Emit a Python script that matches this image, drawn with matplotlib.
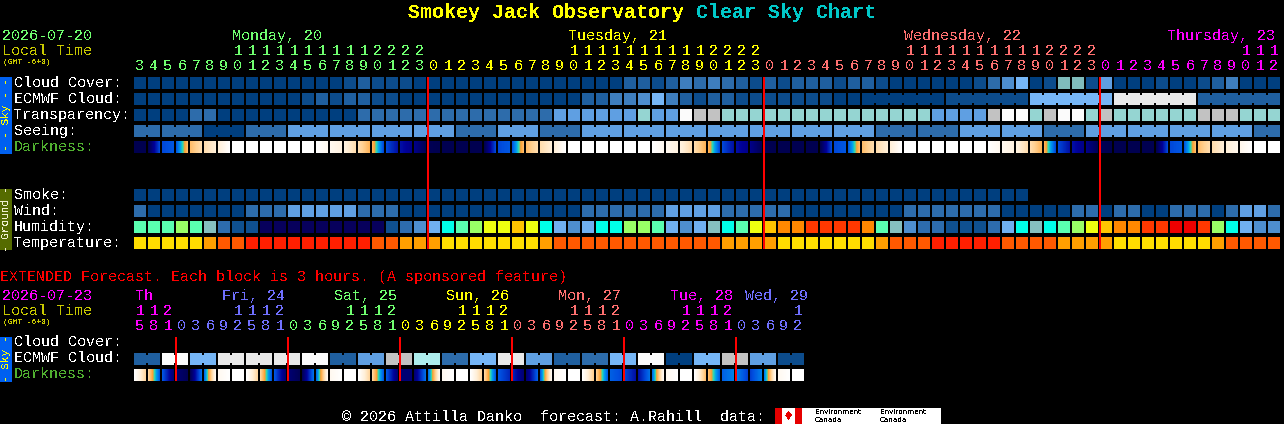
import numpy as np
import matplotlib
matplotlib.use("Agg")
import matplotlib.pyplot as plt
from matplotlib.colors import LinearSegmentedColormap
from matplotlib.patches import Rectangle

# Dados
cloud_pal = ["#003F7F", "#0C4C8C", "#1F5F9F", "#2D6CAB", "#3E7EBE", "#4E8ECE", "#5F9FE2", "#76B6F6",
             "#80BDBD", "#95D5D2", "#ADEDED", "#C2C2C2", "#E9E9E9", "#FBFBFB"]
hum_pal = ["#07005C", "#0F5090", "#2D6CAE", "#4E8ECE", "#70B0F0", "#85BFBF", "#00FFE8",
           "#5AFFB0", "#99FF66", "#EEFF10", "#FFC400", "#FF8800", "#FF3800", "#EE0000"]
temp_pal = ["#FFDD00", "#FF9F00", "#FF5900", "#FF1F00"]

cloud_cover = [0, 0, 0, 0, 0, 0, 0, 0, 0, 0, 0, 0, 0, 0, 0, 1, 2, 1, 1, 1, 0,
               0, 0, 0, 0, 0, 0, 0, 0, 0, 0, 0, 0, 0, 0, 2, 2, 1, 2, 4, 3, 4, 3, 2, 1, 2, 1, 2, 2, 2, 1, 2,
               2, 1, 0, 0, 0, 0, 0, 0, 1, 3, 5, 7, 0, 1, 8, 8, 1, 6, 0, 0, 0, 1, 0, 0, 1, 2, 4, 0, 0, 0]
ecmwf = [0, 0, 0, 0, 0, 0, 0, 0, 0, 0, 0, 0, 1, 2, 1, 2, 2, 1, 1, 0, 0,
         0, 0, 0, 0, 0, 0, 0, 0, 0, 0, 0, 2, 2, 4, 4, 5, 7, 4, 2, 1, 2, 2, 1, 1, 1, 1, 1, 1, 1, 0, 0,
         0, 0, 0, 0, 0, 0, 1, 1, 1, 1, 1, 1, 7, 7, 7, 7, 7, 7, 12, 12, 12, 12, 12, 12, 2, 2, 2, 2, 2, 2]
transparency = [0, 0, 0, 0, 3, 3, 0, 0, 0, 0, 0, 0, 0, 0, 0, 0, 3, 3, 3, 3, 3,
                3, 3, 3, 3, 3, 3, 3, 3, 3, 6, 6, 6, 6, 6, 6, 9, 6, 6, 13, 11, 11, 9, 9, 9, 9, 9, 9, 9, 9, 9, 9,
                9, 9, 9, 9, 9, 6, 6, 6, 6, 11, 13, 13, 9, 11, 13, 13, 9, 11, 9, 9, 9, 9, 9, 9, 11, 11, 11, 9, 9, 9]
seeing = [3, 3, 3, 3, 3, 0, 0, 0, 3, 3, 3, 6, 6, 6, 6, 6, 6, 6, 6, 6, 6,
          6, 6, 3, 3, 3, 6, 6, 6, 3, 3, 3, 6, 6, 6, 6, 6, 6, 6, 6, 6, 6, 6, 6, 6, 6, 6, 6, 6, 6, 6, 6,
          6, 3, 3, 3, 3, 3, 3, 6, 6, 6, 6, 6, 6, 3, 3, 3, 6, 6, 6, 6, 6, 6, 6, 6, 6, 6, 6, 6, 3, 3]
smoke = [0] * 64
wind = [3, 0, 0, 0, 0, 0, 0, 0, 3, 3, 3, 6, 6, 6, 6, 6, 3, 3, 3, 0, 0,
        0, 0, 0, 0, 0, 0, 0, 0, 0, 0, 0, 3, 3, 3, 3, 3, 3, 6, 6, 6, 6, 3, 3, 3, 3, 3, 0, 0, 0, 0, 0,
        0, 0, 0, 3, 3, 3, 3, 3, 3, 3, 0, 0, 0, 0, 0, 3, 3, 0, 3, 3, 0, 0, 3, 3, 3, 0, 3, 6, 6, 3]
humidity = [7, 7, 7, 8, 7, 5, 2, 1, 1, 0, 0, 0, 0, 0, 0, 0, 0, 0, 1, 2, 3,
            4, 6, 7, 8, 9, 9, 10, 9, 6, 4, 3, 4, 6, 6, 8, 8, 7, 4, 3, 4, 5, 6, 7, 9, 10, 11, 11, 12, 12, 12, 12,
            11, 7, 5, 3, 2, 2, 1, 1, 1, 2, 4, 6, 5, 6, 7, 8, 9, 10, 11, 11, 12, 12, 13, 13, 12, 8, 6, 4, 3, 3]
temperature = [0, 0, 0, 0, 0, 1, 2, 2, 3, 3, 3, 3, 3, 3, 3, 3, 3, 2, 2, 1, 1,
               1, 0, 0, 0, 0, 0, 0, 0, 1, 2, 2, 2, 2, 2, 2, 2, 2, 2, 2, 2, 2, 1, 1, 1, 1, 0, 0, 0, 0, 0, 0,
               0, 1, 2, 2, 2, 3, 3, 3, 3, 3, 2, 2, 2, 2, 1, 1, 1, 1, 0, 0, 0, 0, 0, 0, 0, 1, 2, 2, 2, 2]
# darkness at block edges
darkness = [0, 0, 1.9, 2.1, 4.6, 5.4, 6, 7, 7, 7, 7, 7, 7, 7, 6.6, 6.2, 5.4, 4.4, 1.9, 1.2, 0.8, 0.1,
            0, 0, 0, 0, 1.9, 2.1, 4.6, 5.4, 6, 7, 7, 7, 7, 7, 7, 7, 6.6, 6.2, 5.4, 4.4, 1.9, 1.2, 0.8, 0.1,
            0, 0, 0, 0, 1.9, 2.1, 4.6, 5.4, 6, 7, 7, 7, 7, 7, 7, 7, 6.6, 6.2, 5.4, 4.4, 1.9, 1.2, 0.8, 0.1,
            0, 0, 0, 0, 1.9, 2.1, 4.6, 5.4, 6, 6.5, 7, 7, 7]

ext_ecmwf = [2, 13, 7, 12, 12, 12, 13, 2, 6, 11, 10, 3, 7, 12, 6, 2, 3, 7, 13, 0, 7, 11, 6, 1]
ext_darkness = [7, 5.2, 2.1, 0.5, 0.1, 2.4, 6.6, 7, 7, 5.2, 2.1, 0.5, 0.1, 2.4, 6.6, 7, 7, 5.2, 2.1, 0.5, 0.5, 2.4, 6.6, 7,
                7, 5.2, 2.1, 1.5, 0.5, 2.2, 6.6, 7, 7, 5, 2.2, 1.9, 1.2, 2.4, 6.6, 7, 7, 4.6, 2.2, 2.6, 1.8, 2.6, 6.6, 7, 7]

hours = [3, 4, 5, 6, 7, 8, 9, 10, 11, 12, 13, 14, 15, 16, 17, 18, 19, 20, 21, 22, 23,
         0, 1, 2, 3, 4, 5, 6, 7, 8, 9, 10, 11, 12, 13, 14, 15, 16, 17, 18, 19, 20, 21, 22, 23,
         0, 1, 2, 3, 4, 5, 6, 7, 8, 9, 10, 11, 12, 13, 14, 15, 16, 17, 18, 19, 20, 21, 22, 23,
         0, 1, 2, 3, 4, 5, 6, 7, 8, 9, 10, 11, 12]
ext_hours = [15, 18, 21] + [0, 3, 6, 9, 12, 15, 18, 21] * 5 + [0, 3, 6, 9, 12]
day_starts = [0, 21, 45, 69]
day_colors = ["#70FF70", "#FFFF00", "#FF7070", "#FF00FF"]
day_names = ["Monday, 20", "Tuesday, 21", "Wednesday, 22", "Thursday, 23"]
day_name_x = [232, 568, 904, 1167]
ext_day_starts = [0, 3, 11, 19, 27, 35, 43]
ext_day_colors = ["#FF00FF", "#7070FF", "#70FF70", "#FFFF00", "#FF7070", "#FF00FF", "#7070FF"]
ext_day_names = ["Th", "Fri, 24", "Sat, 25", "Sun, 26", "Mon, 27", "Tue, 28", "Wed, 29"]
ext_day_x = [135, 222, 334, 446, 558, 670, 745]

seeing_blocks = [2] + [3] * 26 + [2]
ecmwf_blocks = [1] * 52 + [6] * 5
ext_blocks = [2] * 24

plt.rcParams["font.family"] = "Liberation Mono"
plt.rcParams["text.antialiased"] = False

dark_cmap = LinearSegmentedColormap.from_list("dark", [
    (0 / 7, "#000050"), (1 / 7, "#000098"), (2 / 7, "#0050E0"), (3 / 7, "#00A0F0"),
    (3.5 / 7, "#30D8B0"), (4 / 7, "#FFA030"), (5 / 7, "#FFD090"), (6 / 7, "#FFEFD8"), (7 / 7, "#FFFFFF")])

fig = plt.figure(figsize=(12.84, 4.24), dpi=100, facecolor="black")
ax = fig.add_axes([0, 0, 1, 1], facecolor="black")
ax.axis("off")

CELL = 14
X0 = 134
FS = 10.8


def col_x(i):
    return X0 + i * CELL


def row(values, y, palette, blocks=None):
    for i, v in enumerate(values):
        ax.add_patch(Rectangle((col_x(i), y), 12, 12, color=palette[v], lw=0, antialiased=False))
    if blocks is None:
        return
    start = 0
    for n in blocks:
        for i in range(start, start + n - 1):
            if i + 1 < len(values):
                ax.add_patch(Rectangle((col_x(i) + 12, y + 2), 2, 8, color=palette[values[i]], lw=0, antialiased=False))
        start += n


def ext_row(values, y, palette, blocks):
    row([v for v in values for _ in (0, 1)], y, palette, blocks)


def dark_row(edges, y):
    for i in range(len(edges) - 1):
        grad = np.linspace(edges[i], edges[i + 1], 12).reshape(1, -1)
        ax.imshow(grad, extent=(col_x(i), col_x(i) + 12, y + 12, y), cmap=dark_cmap, vmin=0, vmax=7,
                  aspect="auto", interpolation="nearest")


def midnight_line(i, y, h):
    ax.add_patch(Rectangle((col_x(i) - 1, y), 2, h, color="#FF0000", lw=0, antialiased=False, snap=False, zorder=5))


def label(x, y, s, color="white", **kw):
    # y is the line centre, baseline sits 5 px under it
    kw.setdefault("fontsize", FS)
    kw.setdefault("ha", "left")
    ax.text(x, y + 5, s, color=color, va="baseline", **kw)


def hour_labels(hrs, starts, colors, y_tens, y_ones):
    for i, h in enumerate(hrs):
        c = colors[np.searchsorted(starts, i, side="right") - 1]
        label(col_x(i) + 6, y_ones, str(h % 10), c, ha="center")
        if h >= 10:
            label(col_x(i) + 6, y_tens, str(h // 10), c, ha="center")


# Titulo
label(408, 13, "Smokey Jack Observatory", "#FFFF00", fontsize=14.4, fontweight="bold")
label(696, 13, "Clear Sky Chart", "#00C8C8", fontsize=14.4, fontweight="bold")

# Cabecalho
label(2, 35, "2026-07-20", "#70FF70")
label(2, 50, "Local Time", "#C8C800")
label(3, 59, "(GMT -6+0)", "#C8C800", fontsize=5.8)
for name, x, c in zip(day_names, day_name_x, day_colors):
    label(x, 35, name, c)
hour_labels(hours, day_starts, day_colors, 50, 65)

# Blocos do ceu
for s, y, c in [("Cloud Cover:", 82, "white"), ("ECMWF Cloud:", 98, "white"), ("Transparency:", 114, "white"),
                ("Seeing:", 130, "white"), ("Darkness:", 146, "#50B030"), ("Smoke:", 194, "white"),
                ("Wind:", 210, "white"), ("Humidity:", 226, "white"), ("Temperature:", 242, "white")]:
    label(14, y, s, c)

row(cloud_cover, 77, cloud_pal)
row(ecmwf, 93, cloud_pal, ecmwf_blocks)
row(transparency, 109, cloud_pal)
row(seeing, 125, cloud_pal, seeing_blocks)
dark_row(darkness, 141)
row(smoke, 189, cloud_pal)
row(wind, 205, cloud_pal)
row(humidity, 221, hum_pal)
row(temperature, 237, temp_pal)

for i in day_starts[1:]:
    midnight_line(i, 77, 172)

# Barras laterais
ax.add_patch(Rectangle((0, 77), 12, 77, color="#0060F0", lw=0, antialiased=False))
ax.add_patch(Rectangle((0, 189), 12, 61, color="#556B00", lw=0, antialiased=False))
ax.add_patch(Rectangle((0, 337), 12, 45, color="#0060F0", lw=0, antialiased=False))
ax.text(6, 115, "- - Sky - -", color="#FFFF00", rotation=90, fontsize=8, ha="center", va="center")
ax.text(6, 219, "- Ground -", color="#F0F0D0", rotation=90, fontsize=8, ha="center", va="center")
ax.text(6, 359, "- Sky -", color="#FFFF00", rotation=90, fontsize=8, ha="center", va="center")

# Previsao estendida
label(0, 276, "EXTENDED Forecast. Each block is 3 hours. (A sponsored feature)", "#FF0000")
label(2, 295, "2026-07-23", "#FF00FF")
label(2, 310, "Local Time", "#C8C800")
label(3, 319, "(GMT -6+0)", "#C8C800", fontsize=5.8)
for name, x, c in zip(ext_day_names, ext_day_x, ext_day_colors):
    label(x, 295, name, c)
hour_labels(ext_hours, ext_day_starts, ext_day_colors, 310, 325)
label(14, 341, "Cloud Cover:")
label(14, 357, "ECMWF Cloud:")
label(14, 373, "Darkness:", "#50B030")
ext_row(ext_ecmwf, 353, cloud_pal, ext_blocks)
dark_row(ext_darkness, 369)
for i in ext_day_starts[1:]:
    midnight_line(i, 337, 44)

# Rodape
label(342, 416, "\u00a9 2026 Attilla Danko  forecast: A.Rahill  data:")
ax.add_patch(Rectangle((775, 408), 166, 16, color="white", lw=0, antialiased=False))
ax.add_patch(Rectangle((775, 408), 7, 16, color="#E60000", lw=0, antialiased=False))
ax.add_patch(Rectangle((795, 408), 7, 16, color="#E60000", lw=0, antialiased=False))
ax.text(788.5, 416, "\u2666", color="#E60000", fontsize=9, ha="center", va="center", family="DejaVu Sans")
for x in [815, 880]:
    ax.text(x, 412, "Environment", color="black", fontsize=5.2, family="DejaVu Sans", va="center")
    ax.text(x, 420, "Canada", color="black", fontsize=5.2, family="DejaVu Sans", va="center")

ax.set_xlim(0, 1284)
ax.set_ylim(424, 0)
fig.savefig("out.png", dpi=100, facecolor="black")
